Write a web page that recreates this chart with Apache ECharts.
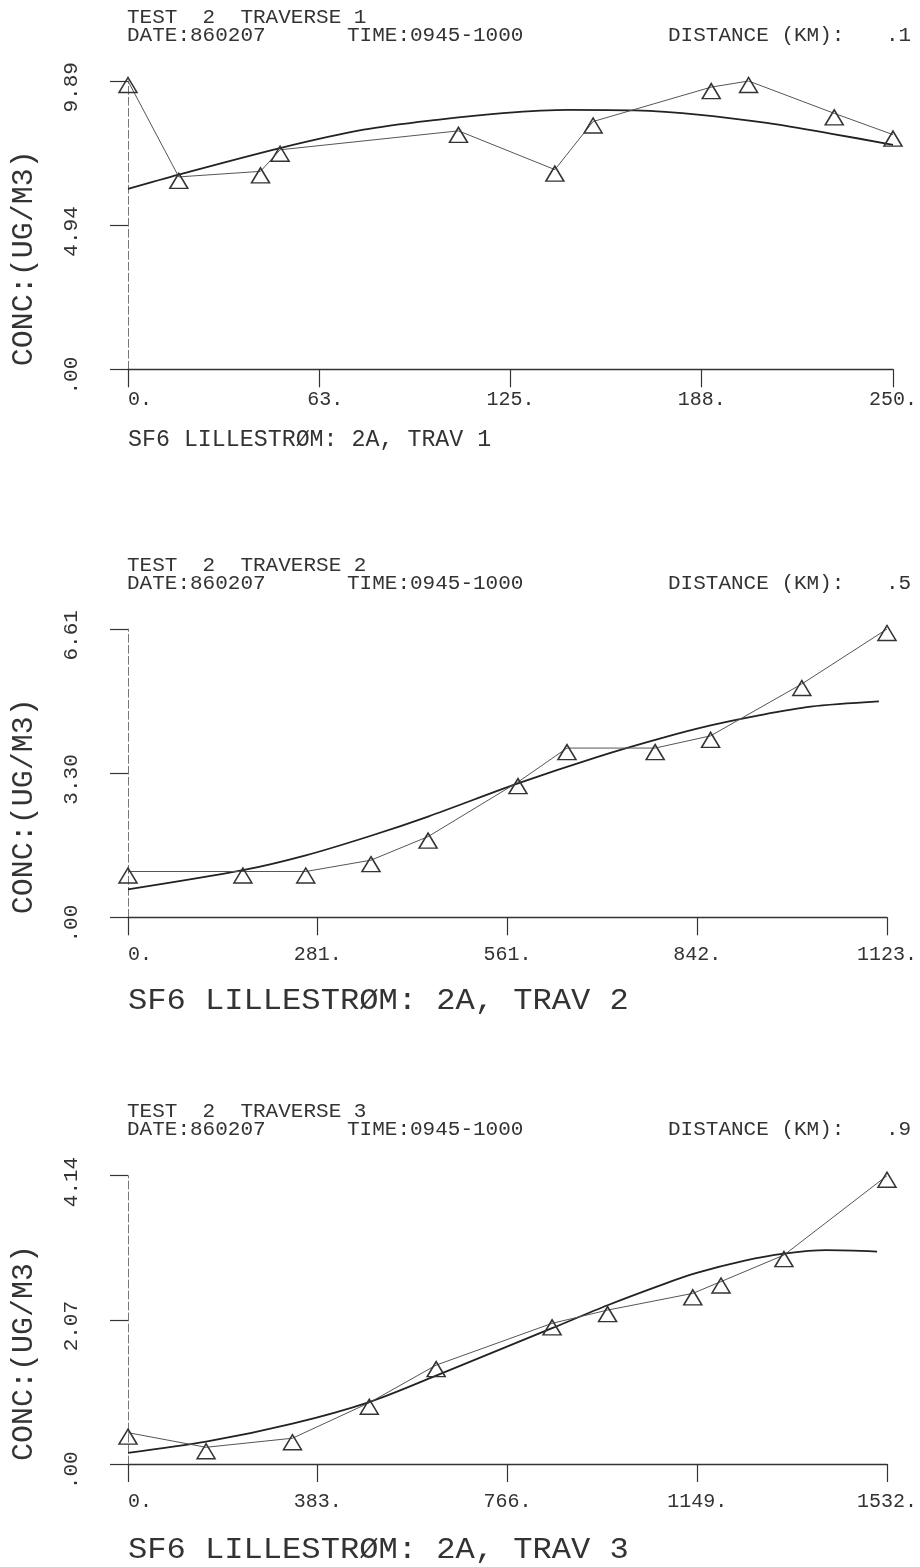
<!DOCTYPE html>
<html>
<head>
<meta charset="utf-8">
<script src="https://cdn.jsdelivr.net/npm/echarts@6/dist/echarts.min.js"></script>
<style>
  html, body { margin: 0; background: #fff; }
  #chart { width: 920px; height: 1567px; }
</style>
</head>
<body>
<div id="chart"></div>
<script>
// traverse 1, 0.1 km
const trav1Dist = [0, 16.6, 43.3, 49.7, 108, 139.5, 152, 190.6, 202.8, 230.8, 250]
const trav1Conc = [9.89, 6.60, 6.79, 7.53, 8.18, 6.85, 8.50, 9.68, 9.89, 8.78, 8.05]
const trav1FitDist = [0, 16.6, 49.7, 77, 101, 122.5, 144, 165.6, 187, 208.7, 230, 250]
const trav1FitConc = [6.19, 6.68, 7.59, 8.22, 8.56, 8.79, 8.90, 8.88, 8.73, 8.45, 8.08, 7.70]
const trav1XTicks = ['0.', '63.', '125.', '188.', '250.']
const trav1YTicks = ['.00', '4.94', '9.89']

// traverse 2, 0.5 km
const trav2Dist = [0, 170, 263, 359.5, 444, 577, 649.5, 780, 862, 997, 1123]
const trav2Conc = [1.05, 1.05, 1.05, 1.31, 1.85, 3.10, 3.88, 3.88, 4.16, 5.35, 6.61]
const trav2FitDist = [0, 170, 263, 359.5, 444, 577, 695, 792, 862, 930, 1010, 1111]
const trav2FitConc = [0.64, 1.08, 1.42, 1.87, 2.31, 3.07, 3.68, 4.12, 4.40, 4.62, 4.83, 4.95]
const trav2XTicks = ['0.', '281.', '561.', '842.', '1123.']
const trav2YTicks = ['.00', '3.30', '6.61']

// traverse 3, 0.9 km
const trav3Dist = [0, 157.6, 332, 487, 622, 856, 968, 1140, 1197, 1324, 1532]
const trav3Conc = [0.45, 0.24, 0.37, 0.88, 1.42, 2.02, 2.21, 2.45, 2.62, 3.00, 4.14]
const trav3FitDist = [0, 157.6, 332, 487, 622, 856, 968, 1080, 1146, 1245, 1324, 1410, 1512]
const trav3FitConc = [0.16, 0.32, 0.58, 0.89, 1.27, 1.95, 2.28, 2.58, 2.74, 2.92, 3.02, 3.07, 3.05]
const trav3XTicks = ['0.', '383.', '766.', '1149.', '1532.']
const trav3YTicks = ['.00', '2.07', '4.14']

const xMax = [250, 1123, 1532]
const yMax = [9.89, 6.61, 4.14]
const distances = ['.1', '.5', '.9']

const traverses = [
  { dist: trav1Dist, conc: trav1Conc, fitDist: trav1FitDist, fitConc: trav1FitConc, xTicks: trav1XTicks, yTicks: trav1YTicks },
  { dist: trav2Dist, conc: trav2Conc, fitDist: trav2FitDist, fitConc: trav2FitConc, xTicks: trav2XTicks, yTicks: trav2YTicks },
  { dist: trav3Dist, conc: trav3Conc, fitDist: trav3FitDist, fitConc: trav3FitConc, xTicks: trav3XTicks, yTicks: trav3YTicks }
]

// layout of the three plotter frames
const gridTop = [81, 629, 1175.7]
const gridHeight = 288.3
const gridLeft = 128
const gridWidth = 774
const labelMargin = [20, 27, 28]
const captionOffset = [70, 84, 86]
const captionFont = [[24, 0.97], [30, 1.07], [30, 1.07]]

const FONT = '"Liberation Mono", "DejaVu Sans Mono", monospace'
const INK = '#333'

const zip = (a, b) => a.map((v, i) => [v, b[i]])

const grid = []
const xAxis = []
const yAxis = []
const series = []
const graphic = []

traverses.forEach((t, i) => {
  const top = gridTop[i]
  const bottom = top + gridHeight
  grid.push({ left: gridLeft, top: top, width: gridWidth, height: gridHeight, containLabel: false })

  xAxis.push({
    type: 'value', gridIndex: i, min: 0, max: xMax[i], interval: xMax[i] / 4,
    axisLine: { show: true, onZero: false, lineStyle: { color: INK, width: 1.3 } },
    axisTick: { show: true, length: 18, lineStyle: { color: INK, width: 1.2 } },
    splitLine: { show: false },
    axisLabel: {
      margin: labelMargin[i], showMinLabel: true, showMaxLabel: true,
      formatter: (v, idx) => t.xTicks[idx].padStart(4, ' '),
      fontFamily: FONT, fontSize: 20, color: INK
    }
  })

  yAxis.push({
    type: 'value', gridIndex: i, min: 0, max: yMax[i], interval: yMax[i] / 2,
    axisLine: { show: true, lineStyle: { color: '#777', width: 1, type: [8, 3] } },
    axisTick: { show: true, length: 18, lineStyle: { color: INK, width: 1.2, type: 'solid' } },
    splitLine: { show: false },
    axisLabel: {
      rotate: 90, margin: 46, showMinLabel: true, showMaxLabel: true,
      formatter: (v, idx) => t.yTicks[idx] + ' ',
      fontFamily: FONT, fontSize: 21, color: INK
    }
  })

  // fitted curve
  series.push({
    type: 'line', xAxisIndex: i, yAxisIndex: i,
    data: zip(t.fitDist, t.fitConc),
    smooth: 0.3, symbol: 'none',
    lineStyle: { color: '#222', width: 1.8 },
    z: 2, animation: false
  })
  // measured points
  series.push({
    type: 'line', xAxisIndex: i, yAxisIndex: i,
    data: zip(t.dist, t.conc),
    symbol: 'triangle', symbolSize: [18, 15], symbolOffset: [0, 4],
    itemStyle: { color: 'rgba(255,255,255,0)', borderColor: INK, borderWidth: 1.5 },
    lineStyle: { color: '#555', width: 1 },
    z: 3, animation: false
  })

  // plot header
  graphic.push({ type: 'text', x: 127, y: top - 64, style: { text: 'TEST  2  TRAVERSE ' + (i + 1), font: '21px ' + FONT, fill: INK, verticalAlign: 'middle' } })
  graphic.push({ type: 'text', x: 127, y: top - 46, style: { text: 'DATE:860207', font: '21px ' + FONT, fill: INK, verticalAlign: 'middle' } })
  graphic.push({ type: 'text', x: 347, y: top - 46, style: { text: 'TIME:0945-1000', font: '21px ' + FONT, fill: INK, verticalAlign: 'middle' } })
  graphic.push({ type: 'text', x: 668, y: top - 46, style: { text: 'DISTANCE (KM):', font: '21px ' + FONT, fill: INK, verticalAlign: 'middle' } })
  graphic.push({ type: 'text', x: 886, y: top - 46, style: { text: distances[i], font: '21px ' + FONT, fill: INK, verticalAlign: 'middle' } })

  // y axis title, reads bottom to top
  graphic.push({
    type: 'text', x: 24, y: bottom - 111, rotation: Math.PI / 2,
    style: { text: 'CONC:(UG/M3)', font: '30px ' + FONT, fill: INK, align: 'center', verticalAlign: 'middle' }
  })

  // caption under the frame
  graphic.push({
    type: 'text', x: 128, y: bottom + captionOffset[i], scaleX: captionFont[i][1],
    style: { text: 'SF6 LILLESTRØM: 2A, TRAV ' + (i + 1), font: captionFont[i][0] + 'px ' + FONT, fill: INK, verticalAlign: 'middle' }
  })
})

const chart = echarts.init(document.getElementById('chart'))
chart.setOption({
  backgroundColor: '#fff',
  animation: false,
  grid, xAxis, yAxis, series, graphic
})
</script>
</body>
</html>
